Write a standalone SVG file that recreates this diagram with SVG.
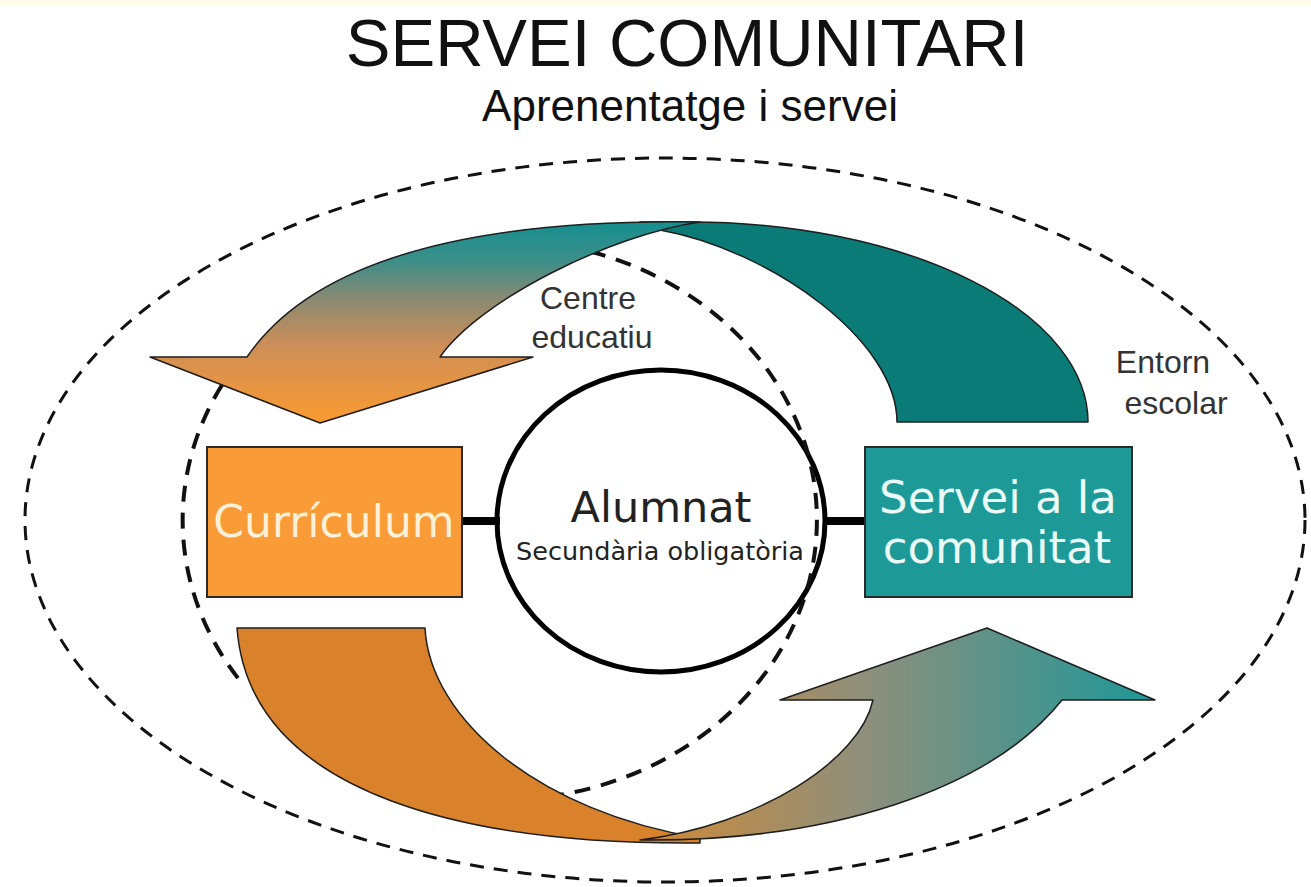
<svg xmlns="http://www.w3.org/2000/svg" width="1311" height="887" viewBox="0 0 1311 887">
  <defs>
    <linearGradient id="gTop" x1="0" y1="222" x2="0" y2="425" gradientUnits="userSpaceOnUse">
      <stop offset="0" stop-color="#148f8f"/>
      <stop offset="0.2" stop-color="#3f8e88"/>
      <stop offset="0.38" stop-color="#8a8a72"/>
      <stop offset="0.62" stop-color="#d08f56"/>
      <stop offset="1" stop-color="#fb9b2f"/>
    </linearGradient>
    <linearGradient id="gBot" x1="640" y1="0" x2="1140" y2="0" gradientUnits="userSpaceOnUse">
      <stop offset="0" stop-color="#d08a36"/>
      <stop offset="0.45" stop-color="#8e8f7c"/>
      <stop offset="1" stop-color="#239796"/>
    </linearGradient>
    <style>
      .dash-outer { fill: none; stroke: #111; stroke-width: 3; stroke-dasharray: 14 10; }
      .dash-inner { fill: none; stroke: #111; stroke-width: 4; stroke-dasharray: 16 11; }
      .arrow { stroke: #1e1e1e; stroke-width: 1.5; stroke-linejoin: round; }
      .box { stroke: #2a2a2a; stroke-width: 2; }
      .bar { stroke: #000; stroke-width: 8; }
      .lbl { font-family: "Liberation Sans", Arial, sans-serif; fill: #333; font-size: 32px; text-anchor: middle; }
      .vt { font-family: "DejaVu Sans", Verdana, sans-serif; text-anchor: middle; }
    </style>
  </defs>

  <rect x="0" y="0" width="1311" height="887" fill="#ffffff"/>
  <rect x="0" y="0" width="1311" height="5" fill="#fffbe6"/>

  <g id="title">
    <text x="687" y="66" font-family="Liberation Sans, Arial, sans-serif" font-size="67" fill="#111" text-anchor="middle">SERVEI COMUNITARI</text>
    <text x="690" y="121" font-family="Liberation Sans, Arial, sans-serif" font-size="44" fill="#111" text-anchor="middle">Aprenentatge i servei</text>
  </g>

  <g id="entorn-escolar">
    <ellipse class="dash-outer" cx="665" cy="520" rx="640" ry="362"/>
    <text class="lbl" x="1163" y="373">Entorn</text>
    <text class="lbl" x="1176" y="414">escolar</text>
  </g>

  <g id="alumnat">
    <ellipse cx="661" cy="521" rx="164" ry="151" fill="#ffffff" stroke="#000" stroke-width="5"/>
    <text class="vt" x="661" y="522" font-size="43" fill="#222">Alumnat</text>
    <text class="vt" x="660" y="560" font-size="25.5" fill="#222">Secundària obligatòria</text>
  </g>

  <g id="centre-educatiu">
    <path class="dash-inner" d="M 590 251.5 A 317 280 0 0 1 553 796"/>
    <path class="dash-inner" d="M 222 385 A 317 280 0 0 0 241 682"/>
    <text class="lbl" x="588" y="309">Centre</text>
    <text class="lbl" x="592" y="348">educatiu</text>
  </g>

  <g id="connectors">
    <path id="arrow-top-right" class="arrow" fill="#0b7b77" d="M 640 222 L 690 222 A 398 200 0 0 1 1088 422 L 897 422 C 897 340 770 250 660 230 L 640 233 Z"/>
    <path id="arrow-top-left" class="arrow" fill="url(#gTop)" d="M 247 357 C 305 272 440 218 700 222 C 610 235 480 300 440 357 L 533 357 L 320 423 L 150 357 Z"/>
    <path id="arrow-bottom-left" class="arrow" fill="#d9822b" d="M 237 628 L 425 628 C 430 720 540 812 700 838 L 700 843 C 480 845 250 800 237 628 Z"/>
    <path id="arrow-bottom-right" class="arrow" fill="url(#gBot)" d="M 640 840 C 830 842 990 790 1062 700 L 1155 700 L 987 628 L 780 700 L 873 700 C 860 760 760 825 640 840 Z"/>
    <line class="bar" x1="462" y1="521" x2="500" y2="521"/>
    <line class="bar" x1="823" y1="521" x2="865" y2="521"/>
  </g>

  <g id="curriculum">
    <rect class="box" x="207" y="447" width="255" height="150" fill="#f99b36"/>
    <text class="vt" x="334" y="537" font-size="44" fill="#fdf0d8">Currículum</text>
  </g>

  <g id="servei">
    <rect class="box" x="865" y="447" width="267" height="150" fill="#1d9a98"/>
    <text class="vt" x="998" y="513" font-size="45" fill="#eafbf8">Servei a la</text>
    <text class="vt" x="997" y="563" font-size="45" fill="#eafbf8">comunitat</text>
  </g>
</svg>
